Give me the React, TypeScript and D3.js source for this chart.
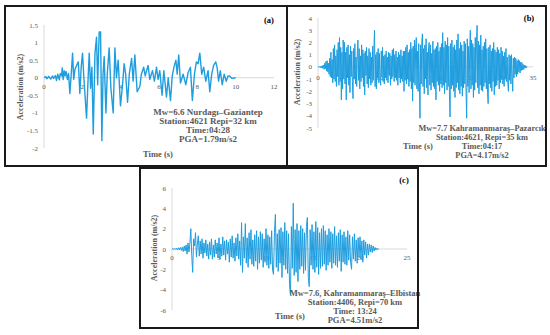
import React from 'react'
import * as d3 from 'd3'

// (a) Mw 6.6 Nurdağı – irregular samples
const timesA = [
  0, 0.1, 0.15, 0.25, 0.35, 0.45, 0.5, 0.6, 0.65, 0.72, 0.8, 0.85, 0.92, 0.95, 1.0, 1.05, 1.1, 1.15, 1.22, 1.28,
  1.35, 1.42, 1.49, 1.55, 1.62, 1.74, 1.79, 1.87, 1.94, 2.01, 2.08, 2.22, 2.31, 2.36, 2.43, 2.5, 2.57, 2.66, 2.74, 2.8,
  2.88, 2.95, 3.02, 3.08, 3.14, 3.23, 3.3, 3.4, 3.49, 3.61, 3.7, 3.78, 3.87, 3.99, 4.1, 4.18, 4.26, 4.36, 4.45, 4.57,
  4.65, 4.74, 4.86, 5.0, 5.08, 5.2, 5.28, 5.35, 5.43, 5.52, 5.6, 5.66, 5.76, 5.87, 5.95, 6.04, 6.16, 6.25, 6.39, 6.48,
  6.6, 6.69, 6.78, 6.88, 6.95, 7.03, 7.12, 7.26, 7.4, 7.52, 7.64, 7.74, 7.85, 7.95, 8.04, 8.13, 8.23, 8.33, 8.44, 8.56,
  8.65, 8.75, 8.85, 8.96, 9.03, 9.11, 9.2, 9.3, 9.4, 9.51, 9.6, 9.69, 9.8, 10.0,
]
const accA = [
  0, 0.03, -0.03, 0.04, -0.04, 0.05, -0.02, 0.06, -0.08, 0.1, -0.06, 0.12, 0.05, 0.28, -0.05, 0.2, 0.05, 0.18, -0.05, 0.12,
  -0.45, 0.1, 0.7, -0.05, 0.25, 0.4, 0.45, -0.45, 0.3, 0.7, 0.0, -1.15, 0.1, 0.7, -0.3, 0.3, -1.6, 0.7, 1.15, -0.2,
  1.3, 1.3, -1.79, 0.1, 0.6, -1.0, 0.1, 0.85, -0.3, -1.0, 0.85, 0.0, 0.5, -0.8, -0.2, 0.4, 0.1, -0.7, 0.1, 0.55,
  -0.1, 0.65, -0.4, -0.25, 0.1, 0.3, 0.05, 0.2, 0.35, -0.05, 0.1, 0.2, -0.1, 0.3, -0.05, 0.2, -0.5, 0.2, -0.55, 0.0,
  -0.65, 0.05, 0.3, 0.5, 0.1, 0.65, -0.15, 0.1, -0.2, 0.15, 0.3, -0.65, 0.1, 0.45, 0.4, 0.7, 0.1, 0.3, -0.1, 0.2,
  -0.4, 0.1, 0.35, 0.45, 0.3, -0.1, 0.2, -0.2, 0.1, -0.1, 0.05, 0.05, -0.02, 0,
]

// (b) Mw 7.7 Pazarcık – one value every 0.1 s, a row per second
const stepB = 0.1
const accB = [
  0, 0.02, -0.03, 0.03, -0.05, 0.06, -0.08, 0.1, -0.12, 0.15,
  -0.2, 0.3, -0.15, 0.45, -0.35, 0.5, -0.4, 0.3, -0.6, 0.7,
  -0.8, 1.2, -0.9, 0.6, -1.3, 1.5, -1.0, 1.8, -1.2, 0.9,
  -1.6, 1.4, -0.8, 2.0, -1.5, 2.4, -1.2, 1.6, -2.7, 1.2,
  -1.8, 2.2, -1.0, 2.0, -1.4, 1.2, -2.7, 1.6, -0.9, 1.8,
  -1.5, 1.0, -2.1, 1.7, -0.8, 1.3, -1.2, -2.6, 1.5, -1.0,
  1.9, -1.4, 0.8, -1.6, 1.2, 2.2, -1.1, 1.5, -1.8, 0.9,
  -1.2, 1.8, -0.9, 1.4, -1.6, 1.1, -2.3, 1.3, -0.7, 1.6,
  -1.4, 0.9, -1.7, 1.5, -1.0, 1.2, -1.5, 0.8, -1.3, 1.7,
  -1.1, 1.4, 3.0, -1.6, 1.0, -1.8, 1.2, -0.9, 1.5, -1.3,
  1.1, -1.0, -1.5, 1.3, -0.8, 1.6, -1.2, 0.9, -1.4, 1.0,
  -0.9, 1.3, -1.1, 0.8, -1.3, 1.2, -0.7, 1.1, -1.5, 0.9,
  -1.0, 1.4, -0.8, 1.5, -1.2, 1.0, -0.9, 1.3, -1.1, 0.8,
  -1.5, 1.2, -0.9, 1.0, -1.3, 1.4, -1.0, 0.9, -1.2, 1.3,
  -2.0, 1.3, -1.1, 1.6, -1.4, 1.8, -1.0, 1.2, -1.6, 1.4,
  -1.2, 2.0, -1.8, 1.5, -2.8, 1.7, -1.3, 2.2, -1.5, 1.6,
  2.4, -1.8, 1.3, -2.0, 1.9, -1.2, -4.2, 1.8, -1.4, 2.1,
  2.7, -1.6, 1.5, -2.2, 1.8, -1.0, 2.3, -1.7, 1.2, -2.3,
  1.6, 2.0, -1.5, 1.8, -1.9, 1.1, -1.3, 2.1, -1.6, 1.4,
  -1.8, 1.5, -2.7, 1.7, -1.2, 2.0, -1.5, 1.3, -2.0, 1.6,
  -1.4, 1.9, -1.7, 2.8, -1.5, 1.6, -2.2, 2.1, -1.3, 1.8,
  -1.9, 2.4, -1.6, 1.7, -2.3, -4.1, 1.9, -1.8, 2.2, -1.5,
  1.6, -2.0, 1.8, -2.5, 1.4, -1.7, 2.2, -1.3, 2.7, -1.9,
  1.5, -2.2, 2.0, -1.6, 1.8, -2.4, 1.3, -1.7, 2.1, -1.4,
  1.9, -2.0, -4.2, 2.3, -1.6, 1.7, -2.1, 1.4, 3.0, -1.8,
  2.2, -1.5, 1.9, -2.5, 1.6, -1.9, 2.4, -1.3, 2.0, 3.4,
  -1.7, 2.1, -2.2, 1.8, -1.5, 2.6, -1.9, 1.4, -2.0, 1.7,
  -1.6, 2.0, -1.3, 2.3, -1.8, 1.5, -2.1, -3.0, 1.6, -1.4,
  1.8, -1.7, 1.3, -2.0, 1.5, -1.2, 2.0, -2.3, 1.4, -1.6,
  1.2, -1.5, 1.6, -1.1, 1.4, -1.8, 1.1, -1.3, 1.6, -1.0,
  1.3, -1.4, 0.9, -1.6, 1.2, -1.0, 1.5, -1.2, 0.8, -1.3,
  -2.0, 1.0, -1.1, 0.9, -1.4, 1.0, -0.8, -2.0, 0.7, -0.9,
  0.8, -0.6, 0.7, -0.8, 0.5, -0.6, 0.6, -0.4, 0.5, -0.5,
  0.4, -0.3, 0.35, -0.25, 0.2, -0.2, 0.15, -0.1, 0.1, -0.08,
  0.05,
]

// (c) Mw 7.6 Elbistan – one value every 0.1 s
const stepC = 0.1
const accC = [
  0, 0.03, -0.05, 0.06, -0.04, 0.08, -0.1, 0.12, -0.08, 0.15,
  -0.15, 0.2, -0.25, 0.3, -0.2, 0.4, -0.5, 0.6, -0.3, 0.5,
  2.0, -0.6, -2.3, 1.0, 0.3, 1.6, -0.8, 0.5, 1.3, -0.7,
  0.8, -0.5, 1.0, -0.9, 0.6, -0.4, 0.9, -0.7, 0.5, -1.0,
  0.7, -0.6, 1.0, -1.0, 0.4, -0.8, 0.9, -0.5, 0.6, -0.9,
  1.1, -1.0, 0.5, -0.7, 1.2, -0.6, 0.8, -1.1, 0.9, -0.5,
  0.7, -1.3, 1.0, -0.8, 1.3, -0.9, 0.6, -1.2, 1.1, -0.7,
  1.5, -1.0, 0.8, -1.6, 2.6, -2.3, 1.2, -0.9, 2.5, -1.4,
  1.1, -1.8, 1.6, -1.0, 1.9, -1.5, 0.9, -1.7, 1.4, -1.2,
  1.8, -2.0, 1.2, -1.4, 1.7, -1.1, 1.5, -1.8, 1.0, -1.3,
  2.0, -1.6, 1.4, -1.9, 1.2, -1.5, 1.8, -2.1, -2.5, 1.6,
  3.4, -1.8, 1.5, -2.2, 1.9, -1.4, 2.1, -2.8, 1.7, -1.6,
  2.6, -2.0, 1.8, -2.4, 1.5, -3.5, -4.51, 2.2, -1.9, 4.5,
  -2.6, 1.9, -2.3, 2.5, -3.2, 1.8, -2.0, 2.3, -1.7, 2.0,
  -2.4, 1.6, -2.1, 2.2, 3.1, -2.8, -3.7, 1.9, -1.6, 2.4,
  -2.0, 1.7, -2.3, 2.7, -1.8, 2.1, -2.5, 1.6, -1.9, 2.0,
  -1.7, 2.3, -1.5, 1.8, -2.1, 1.4, -1.6, 2.0, -1.3, 1.7,
  -1.9, 1.5, -1.4, 2.2, -1.6, 1.3, -1.8, 1.6, -1.2, 1.9,
  -2.2, 1.4, -1.3, 1.7, -1.5, 1.2, -1.6, 1.8, -1.1, 1.4,
  -1.3, -2.0, 1.2, -1.0, 1.5, -1.2, 0.9, -1.4, 1.1, -0.8,
  1.2, -1.0, 0.8, -1.3, 0.9, -0.6, 0.7, -0.9, 0.5, -0.6,
  0.5, -0.3, 0.4, -0.35, 0.3, -0.2, 0.15, -0.1, 0.08, -0.05,
  0.02,
]

const xTicksA = [0, 2, 4, 6, 8, 10, 12]
const yTicksA = [-2, -1.5, -1, -0.5, 0, 0.5, 1, 1.5]
const xTicksB = [0, 5, 10, 15, 20, 25, 30, 35]
const yTicksB = [-5, -4, -3, -2, -1, 0, 1, 2, 3, 4]
const xTicksC = [0, 5, 10, 15, 20, 25]
const yTicksC = [-6, -4, -2, 0, 2, 4, 6]

const notesA = ['Mw=6.6 Nurdagı–Gaziantep', 'Station:4621 Repi=32 km', 'Time:04:28', 'PGA=1.79m/s2']
const notesB = ['Mw=7.7 Kahramanmaraş–Pazarcık', 'Station:4621, Repi=35 km', 'Time:04:17', 'PGA=4.17m/s2']
const notesC = ['Mw=7.6, Kahramanmaraş–Elbistan', 'Station:4406, Repi=70 km', 'Time: 13:24', 'PGA=4.51m/s2']

const SERIF = '"Liberation Serif", "Times New Roman", serif'
const BLUE = '#1e9ddf'
const GREY = '#595959'

type Panel = {
  frame: [number, number, number, number]
  xRange: [number, number]
  yRange: [number, number]
  xDomain: [number, number]
  yDomain: [number, number]
  xTicks: number[]
  yTicks: number[]
  points: [number, number][]
  label: string
  labelAt: [number, number]
  yTitleAt: [number, number]
  xTitleAt: [number, number]
  notes: string[]
  notesAt: [number, number]
  noteSize: number
  xLabelDy: number
  lineWidth: number
}

const panels: Panel[] = [
  {
    frame: [5, 6, 287, 166],
    xRange: [44, 274], yRange: [148, 25],
    xDomain: [0, 12], yDomain: [-2, 1.5],
    xTicks: xTicksA, yTicks: yTicksA,
    points: timesA.map((t, i) => [t, accA[i]]),
    label: '(a)', labelAt: [269, 23],
    yTitleAt: [21, 87], xTitleAt: [158, 157],
    notes: notesA, notesAt: [208, 115], noteSize: 9,
    xLabelDy: 11, lineWidth: 1.4,
  },
  {
    frame: [287, 6, 546, 166],
    xRange: [318, 533], yRange: [128, 18],
    xDomain: [0, 35], yDomain: [-5, 4],
    xTicks: xTicksB, yTicks: yTicksB,
    points: accB.map((v, i) => [i * stepB, v]),
    label: '(b)', labelAt: [529, 21],
    yTitleAt: [298, 72], xTitleAt: [418, 149],
    notes: notesB, notesAt: [482, 131], noteSize: 8.3,
    xLabelDy: 13, lineWidth: 1,
  },
  {
    frame: [140, 168, 418, 328],
    xRange: [172, 407], yRange: [310, 188],
    xDomain: [0, 25], yDomain: [-6, 6],
    xTicks: xTicksC, yTicks: yTicksC,
    points: accC.map((v, i) => [i * stepC, v]),
    label: '(c)', labelAt: [404, 183],
    yTitleAt: [155, 248], xTitleAt: [290, 319],
    notes: notesC, notesAt: [355, 296], noteSize: 8.5,
    xLabelDy: 11, lineWidth: 1,
  },
]

function Chart({ p }: { p: Panel }) {
  const x = d3.scaleLinear().domain(p.xDomain).range(p.xRange)
  const y = d3.scaleLinear().domain(p.yDomain).range(p.yRange)
  const line = d3.line<[number, number]>().x(d => x(d[0])).y(d => y(d[1]))
  const [fx0, fy0, fx1, fy1] = p.frame
  return (
    <g>
      <rect x={fx0} y={fy0} width={fx1 - fx0} height={fy1 - fy0} fill="#fff" />
      <line x1={x(p.xDomain[0])} x2={x(p.xDomain[1])} y1={y(0)} y2={y(0)} stroke="#d9d9d9" />
      <line x1={x(0)} x2={x(0)} y1={y(p.yDomain[0])} y2={y(p.yDomain[1])} stroke="#d9d9d9" />
      {p.yTicks.map(t => (
        <text key={'y' + t} x={x(0) - 6} y={y(t) + 2.5} textAnchor="end" fontSize={7} fill={GREY} fontFamily={SERIF}>
          {t}
        </text>
      ))}
      {p.xTicks.map(t => (
        <text key={'x' + t} x={x(t)} y={y(0) + p.xLabelDy} textAnchor="middle" fontSize={7} fill={GREY} fontFamily={SERIF}>
          {t}
        </text>
      ))}
      <path d={line(p.points) ?? ''} fill="none" stroke={BLUE} strokeWidth={p.lineWidth} strokeLinejoin="round" />
      <text
        transform={`translate(${p.yTitleAt[0]},${p.yTitleAt[1]}) rotate(-90)`}
        textAnchor="middle" dominantBaseline="middle" fontSize={8} fontWeight="bold" fill={GREY} fontFamily={SERIF}
      >
        Acceleration (m/s2)
      </text>
      <text x={p.xTitleAt[0]} y={p.xTitleAt[1]} textAnchor="middle" fontSize={8.5} fontWeight="bold" fill={GREY} fontFamily={SERIF}>
        Time (s)
      </text>
      {p.notes.map((n, i) => (
        <text key={n} x={p.notesAt[0]} y={p.notesAt[1] + i * 9} textAnchor="middle" fontSize={p.noteSize} fontWeight="bold" fill={GREY} fontFamily={SERIF}>
          {n}
        </text>
      ))}
      <text x={p.labelAt[0]} y={p.labelAt[1]} textAnchor="middle" fontSize={8.5} fontWeight="bold" fill="#000" fontFamily={SERIF}>
        {p.label}
      </text>
    </g>
  )
}

export default function App() {
  return (
    <svg width={550} height={335} style={{ position: 'absolute', left: 0, top: 0, background: '#fff' }}>
      {panels.map(p => <Chart key={p.label} p={p} />)}
      {panels.map(p => (
        <rect
          key={'f' + p.label}
          x={p.frame[0]} y={p.frame[1]} width={p.frame[2] - p.frame[0]} height={p.frame[3] - p.frame[1]}
          fill="none" stroke="#1a1a1a" strokeWidth={2}
        />
      ))}
    </svg>
  )
}
